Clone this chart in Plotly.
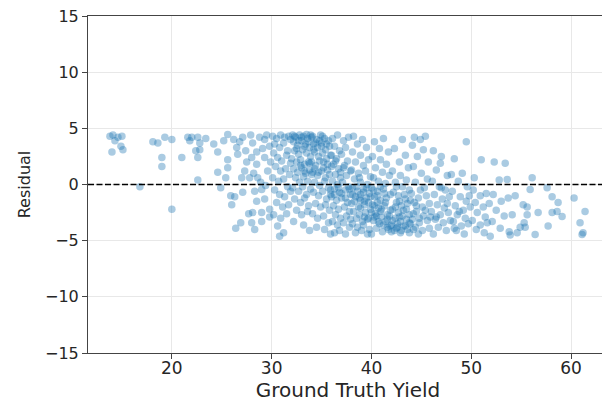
import plotly.graph_objects as go

ground_truth = [
    13.8, 14.1, 14.6, 15.0, 14.3, 14.9, 14.0, 15.1,
    16.8,
    18.1, 18.6, 19.3, 19.0, 19.0,
    20.0, 21.0, 21.6, 20.0, 21.8,
    22.0, 22.6, 22.8, 22.8, 22.6, 22.6, 23.4, 22.4,
    24.6, 25.6, 24.6, 25.6, 25.6, 24.2, 25.2, 25.9, 24.9, 25.4,
    26.5, 27.1, 26.6, 27.5, 27.0, 27.8, 26.3, 27.1, 26.0, 26.2, 26.8, 27.4, 27.7, 26.9, 26.4, 27.3, 27.9,
    28.1, 28.5, 29.3, 29.8, 28.0, 28.5, 29.3, 28.6, 28.3, 29.0, 28.5, 29.3, 28.1, 29.0, 28.0, 29.0, 29.8, 29.8,
    28.3, 29.5, 28.8, 29.6, 28.9, 29.4, 28.2, 29.9, 29.1,
    30.1, 30.5, 30.9, 31.3, 31.7, 30.3, 30.8, 31.2, 31.6, 30.2, 30.6, 31.0, 31.5, 31.9, 30.4, 30.9, 31.4, 31.8,
    30.1, 30.7, 31.2, 31.6, 30.3, 30.8, 31.3, 31.9, 30.5, 31.1, 31.7, 30.2, 30.9, 31.5, 30.6, 31.2, 30.8,
    32.1, 32.4, 32.8, 33.2, 33.6, 33.9, 32.2, 32.6, 33.0, 33.4, 33.8, 32.3, 32.7, 33.1, 33.5, 33.9, 32.0, 32.5,
    32.9, 33.3, 33.7, 32.2, 32.6, 33.0, 33.4, 33.8, 32.4, 32.8, 33.2, 33.6, 32.1, 32.7, 33.1, 33.5, 33.9, 32.3,
    32.9, 33.3, 33.7, 32.5, 33.0, 33.6, 32.2, 33.2, 33.8,
    34.1, 34.5, 34.9, 35.3, 35.7, 34.2, 34.6, 35.0, 35.4, 35.8, 34.3, 34.7, 35.1, 35.5, 35.9, 34.0, 34.4, 34.8,
    35.2, 35.6, 34.1, 34.6, 35.0, 35.4, 35.8, 34.3, 34.8, 35.3, 35.7, 34.2, 34.7, 35.1, 35.5, 35.9, 34.4, 34.9,
    35.4, 35.8, 34.1, 34.6, 35.2, 35.7, 34.5, 35.3, 35.9,
    36.1, 36.6, 37.2, 37.7, 36.3, 36.8, 37.4, 36.0, 36.5, 37.0, 37.6, 36.2, 36.7, 37.3, 37.9, 36.4, 36.9, 37.5,
    36.1, 36.6, 37.1, 37.7, 36.3, 36.8, 37.4, 37.9, 36.0, 36.5, 37.0, 37.6, 36.2, 36.7, 37.3, 37.8, 36.4, 36.9,
    37.5, 36.1, 36.6, 37.2, 37.8, 36.8, 37.4, 36.3, 37.9,
    38.2, 39.1, 38.6, 39.5, 38.1, 38.9, 39.7, 38.4, 39.2, 38.0, 38.7, 39.4, 39.9, 38.3, 38.9, 39.6, 38.1, 38.6,
    39.2, 39.8, 38.4, 38.9, 39.5, 38.0, 38.7, 39.3, 39.9, 38.2, 38.8, 39.4, 38.5, 39.1, 39.7, 38.1, 38.6, 39.2,
    39.8, 38.4, 39.0, 39.6, 38.9, 39.3, 38.3, 39.7, 38.8,
    40.3, 41.2, 40.8, 41.7, 40.1, 40.9, 41.5, 40.4, 41.1, 41.8, 40.2, 40.7, 41.4, 40.0, 40.6, 41.2, 41.9, 40.3,
    40.9, 41.5, 40.1, 40.7, 41.3, 41.9, 40.4, 41.0, 41.6, 40.2, 40.8, 41.4, 41.9, 40.5, 41.1, 41.7, 40.0, 40.6,
    41.3, 40.9, 41.6, 40.3,
    42.3, 43.4, 42.8, 43.7, 42.1, 42.9, 43.5, 42.4, 43.1, 43.8, 42.2, 42.7, 43.3, 43.9, 42.5, 43.0, 43.6, 42.1,
    42.7, 43.2, 43.8, 42.4, 42.9, 43.5, 42.0, 42.6, 43.2, 43.9, 42.3, 42.9, 43.6, 42.8, 43.4, 42.5, 43.1,
    44.3, 44.9, 45.4, 44.1, 45.2, 44.6, 45.7, 44.2, 45.0, 45.6, 44.4, 45.3, 44.0, 44.7, 45.5, 44.3, 45.1, 45.8,
    44.5, 45.2, 44.1, 44.8, 45.6, 44.4, 45.1, 45.8, 44.7, 45.4, 44.9, 45.9,
    46.2, 47.0, 46.5, 47.6, 46.1, 46.8, 47.4, 46.3, 47.1, 47.8, 46.6, 47.3, 46.0, 46.9, 47.7, 46.4, 47.2, 47.9,
    46.7, 47.5, 46.2, 47.0, 46.5, 47.6, 46.9,
    48.3, 49.1, 48.7, 49.6, 48.1, 48.9, 49.5, 48.4, 49.2, 49.9, 48.6, 49.4, 48.2, 49.0, 49.7, 48.5, 49.3, 48.8,
    49.8, 48.0, 49.5, 48.3,
    50.2, 50.9, 51.5, 50.4, 51.2, 51.8, 50.6, 51.4, 50.1, 50.9, 51.6, 50.5, 51.3, 51.0, 50.3, 51.9,
    52.3, 53.4, 52.8, 53.6, 52.2, 53.0, 53.7, 52.5, 53.3, 52.1, 52.9, 53.8,
    54.1, 54.9, 53.9, 55.6, 54.4, 55.2, 56.1, 55.9, 55.6, 55.4, 56.4, 54.6, 55.3,
    58.1, 58.7, 58.6, 58.1, 59.1, 56.7, 57.7, 57.6,
    61.4, 60.9, 61.2, 61.1, 60.3,
    # denser clusters
    31.9, 32.3, 32.7, 33.0, 33.3, 33.7, 34.0, 34.4, 34.8, 35.1, 35.5, 32.5, 33.5, 34.2, 35.0,
    32.9, 33.3, 33.8, 34.3, 34.7, 35.2, 35.6, 36.0, 36.4, 36.9, 37.2, 34.0,
    35.9, 36.3, 36.7, 37.0, 37.4, 37.8, 38.1, 38.5, 38.8, 39.2, 39.5, 39.9, 40.2, 40.6, 40.9,
    38.9, 39.3, 39.6, 40.0, 40.3, 40.7, 41.0, 41.4, 41.8, 42.1, 42.4, 42.8, 43.1, 43.5, 43.8, 44.2, 44.5, 44.8,
    42.6, 40.5,
    41.6, 42.0, 42.5, 43.0, 43.4, 43.8, 44.2, 41.2,
]
residual = [
    4.3, 4.4, 4.2, 4.3, 3.9, 3.4, 2.9, 3.1,
    -0.2,
    3.8, 3.7, 4.2, 2.4, 1.6,
    4.0, 2.4, 4.2, -2.2, 3.9,
    4.2, 4.2, 3.7, 3.1, 2.4, 0.4, 4.1, 3.0,
    2.9, 4.45, 1.1, 1.5, 2.2, 3.6, 3.9, -1.0, -0.3, 0.6,
    3.3, 4.2, 2.7, 2.0, 0.6, 0.6, -1.1, -0.7, -1.8, 4.0, 3.8, 3.0, -2.6, -3.4, -3.9, 1.2, 4.4,
    3.7, 2.9, 4.0, 3.4, 2.4, 1.8, 2.4, 0.6, -0.6, -0.45, -1.5, -1.3, -2.5, -2.5, -3.4, -3.3, -2.2, -2.9,
    -4.0, 4.4, 4.2, 1.2, 0.2, -0.1, 1.0, 2.0, 3.2,
    4.3, 4.1, 4.4, 4.2, 4.3, 3.6, 3.3, 3.7, 3.0, 2.8, 2.4, 2.1, 2.6, 1.9, 1.6, 1.2, 1.4, 0.9,
    0.6, 0.3, 0.5, -0.2, -0.5, -0.9, -1.1, -0.6, -1.6, -2.0, -1.8, -2.7, -3.0, -2.6, -3.7, -4.3, -4.6,
    4.4, 4.2, 4.4, 4.3, 4.1, 4.4, 3.8, 3.5, 3.9, 3.6, 3.3, 3.0, 2.7, 3.1, 2.8, 2.5, 2.3, 2.0,
    2.2, 1.8, 2.0, 1.4, 1.1, 1.5, 1.0, 1.3, 0.6, 0.2, 0.7, 0.3, -0.3, -0.6, -0.2, -0.9, -0.4, -1.3,
    -1.6, -1.2, -1.9, -2.3, -2.7, -2.4, -3.3, -3.6, -4.1,
    4.3, 4.0, 4.4, 4.1, 3.9, 3.6, 3.3, 3.7, 3.1, 3.4, 2.9, 2.5, 2.8, 2.3, 2.6, 2.0, 1.7, 2.1,
    1.5, 1.8, 1.1, 0.8, 1.2, 0.6, 0.9, 0.2, -0.1, 0.3, -0.3, -0.7, -1.0, -0.6, -1.3, -0.9, -1.7, -2.0,
    -1.8, -2.3, -2.6, -3.0, -2.8, -3.4, -3.8, -4.0, -4.4,
    4.1, 4.4, 3.9, 4.2, 3.4, 3.0, 3.3, 2.6, 2.3, 2.7, 2.1, 1.8, 1.4, 1.7, 1.2, 0.9, 0.6, 0.8,
    0.3, 0.0, 0.2, -0.2, -0.4, -0.7, -0.5, -0.9, -1.1, -1.4, -1.2, -1.6, -1.9, -2.2, -2.0, -2.4, -2.7, -3.0,
    -2.8, -3.3, -3.6, -3.4, -3.8, -4.1, -4.4, -4.3, -3.1,
    4.3, 4.0, 3.6, 3.3, 2.9, 2.6, 2.2, 2.0, 1.7, 1.3, 1.0, 1.2, 0.7, 0.5, 0.2, 0.0, -0.3, -0.6,
    -0.4, -0.8, -1.1, -1.4, -1.2, -1.7, -2.0, -1.8, -2.2, -2.4, -2.7, -2.5, -3.0, -3.3, -3.0, -3.5, -3.8, -3.6,
    -4.0, -4.3, -4.1, -4.4, -0.9, -2.9, -1.5, -1.6, 0.6,
    3.8, 4.1, 3.2, 2.9, 2.5, 2.2, 1.8, 1.5, 1.1, 0.8, 0.6, 0.3, 0.1, -0.3, -0.6, -0.4, -0.9, -1.1,
    -1.4, -1.2, -1.8, -2.1, -1.9, -2.3, -2.6, -2.9, -2.7, -3.2, -3.5, -3.3, -3.7, -3.9, -4.2, -4.0, -4.4, -1.6,
    -0.8, -2.4, -3.1, -2.9,
    3.2, 2.6, 2.0, 1.5, 1.2, 0.8, 0.4, 0.2, -0.2, -0.5, -0.7, -1.0, -0.9, -1.4, -1.6, -1.9, -1.7, -2.2,
    -2.5, -2.3, -2.7, -3.0, -3.3, -3.1, -3.6, -3.8, -3.7, -3.5, -4.1, -4.3, -4.0, -2.9, -1.3, -0.2, 4.0,
    4.2, 4.0, 4.3, 3.5, 3.1, 2.5, 2.0, 1.6, 1.0, 0.5, 0.2, -0.3, -0.8, -1.2, -1.0, -1.6, -2.0, -1.7,
    -2.4, -2.8, -3.1, -3.4, -3.2, -3.8, -4.1, -3.9, -4.4, -2.3, -0.5, -2.9,
    3.0, 2.5, 1.3, 0.8, 0.3, -0.2, -0.5, -0.9, -1.3, -1.1, -1.8, -2.1, -2.4, -2.7, -2.5, -3.1, -3.4, -3.2,
    -3.8, -4.1, -4.4, -0.3, -2.9, -1.7, 1.9,
    2.3, 1.0, 0.3, -0.2, -0.6, -1.1, -1.5, -1.9, -2.3, -2.0, -2.7, -3.0, -3.3, -3.7, -3.5, -4.1, -4.4, -2.4,
    -1.0, 0.9, 3.8, -3.9,
    -0.5, -1.0, -0.8, -1.6, -2.0, -1.7, -2.5, -2.9, -3.2, -3.6, -3.4, -4.0, -4.3, 2.2, 0.6, -4.6,
    2.0, 1.9, 0.4, 0.45, -0.9, -1.5, -1.2, -2.3, -2.8, -3.3, -3.9, -4.2,
    -2.7, -3.8, -4.5, -2.7, -1.0, -1.8, 0.6, -0.45, -2.0, -3.8, -4.45, -4.3, -3.4,
    -1.1, -1.6, -2.4, -2.5, -2.85, -2.5, -3.7, -0.3,
    -2.4, -3.4, -4.3, -4.45, -1.2,
    # denser clusters
    4.0, 4.3, 3.9, 4.2, 3.4, 3.8, 4.2, 3.7, 3.9, 4.3, 3.6, 3.2, 4.45, 3.1, 3.4,
    1.7, 1.2, 1.9, 1.4, 1.1, 2.0, 1.3, 1.6, 2.1, 1.1, 1.5, 0.9,
    -0.5, -0.9, -0.3, -0.8, -1.2, -0.4, -0.9, -0.2, -1.2, -0.7, -0.3, -1.1, -0.5, -1.0, -0.2,
    -2.1, -1.5, -3.1, -2.5, -1.9, -3.3, -2.2, -1.6, -2.8, -3.2, -2.0, -1.5, -2.8, -2.2, -3.4, -2.6, -1.9, -3.0,
    -3.5, -2.8,
    -3.8, -4.2, -3.9, -4.1, -3.7, -4.3, -4.0, -3.6,
]

x_ticks = [20, 30, 40, 50, 60]
y_ticks = [-15, -10, -5, 0, 5, 10, 15]
x_range = [11.6, 63.7]
y_range = [-15, 15]

fig = go.Figure()
fig.add_trace(go.Scatter(
    x=ground_truth, y=residual, mode="markers",
    marker=dict(size=7.5, color="rgba(31,119,180,0.38)", line=dict(width=0)),
    showlegend=False, hoverinfo="skip",
))
fig.add_shape(type="line", xref="paper", yref="y", x0=0, x1=1, y0=0, y1=0,
              line=dict(color="black", width=1.6, dash="6px,2.5px"))

axis_common = dict(
    automargin=False, ticklabeloverflow="allow",
    showline=True, mirror=True, linecolor="#444444", linewidth=1,
    ticks="outside", ticklen=5, tickwidth=1, tickcolor="#444444",
    showgrid=True, gridcolor="#e8e8e8", gridwidth=1, zeroline=False,
)
fig.update_xaxes(range=x_range, tickvals=x_ticks, title_text="Ground Truth Yield",
                 title_standoff=4, ticklabelstandoff=-5,
                 tickfont=dict(family="DejaVu Sans", size=17, color="#262626"),
                 title_font=dict(family="DejaVu Sans", size=20, color="#262626"),
                 **axis_common)
fig.update_yaxes(range=y_range, tickvals=y_ticks, title_text="Residual",
                 title_standoff=10,
                 tickfont=dict(family="DejaVu Sans", size=16, color="#262626"),
                 title_font=dict(family="DejaVu Sans", size=16, color="#262626"),
                 **axis_common)
# the page body adds an 8px offset, so the figure is sized to fit inside the window
fig.update_layout(
    width=602, height=394,
    margin=dict(l=80, r=2, t=8, b=49),
    paper_bgcolor="white", plot_bgcolor="white",
)
fig.write_html("out.html")
